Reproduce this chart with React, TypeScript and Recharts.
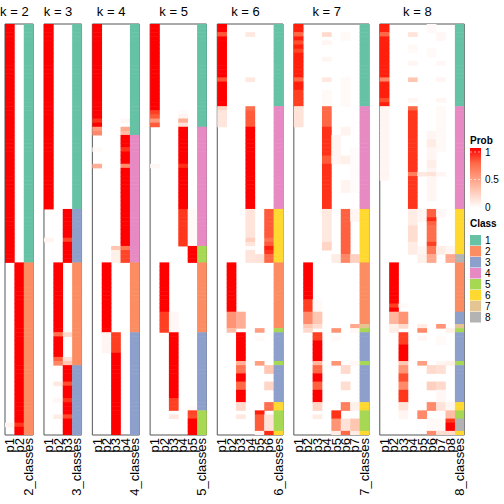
import React from 'react';
import { ScatterChart, Scatter, XAxis, YAxis, ReferenceArea } from 'recharts';

// samples (rows) shared by every panel
const ROWS = 100;
const KS = [2, 3, 4, 5, 6, 7, 8];
const CLASS_IDS = ['1', '2', '3', '4', '5', '6', '7', '8'];
const CLASS_COLORS = ['#66C2A5', '#FC8D62', '#8DA0CB', '#E78AC3', '#A6D854', '#FFD92F', '#E5C494', '#B3B3B3'];
const PROB_TICKS = [1, 0.5, 0];

// class runs: [fromRow, toRow, class]
// prob runs: [column p#, fromRow, toRow, probability] (later entries win)
const K2_CLASSES = [[0, 57, 1], [58, 99, 2]];
const K2_PROBS = [[1, 0, 57, 1], [2, 58, 99, 1], [1, 97, 97, 0.06], [2, 97, 97, 0.92]];

const K3_CLASSES = [[0, 44, 1], [45, 57, 3], [58, 82, 2], [83, 99, 3]];
const K3_PROBS = [
  [1, 0, 44, 1],
  [3, 45, 57, 1], [1, 52, 52, 0.06], [3, 52, 52, 0.88],
  [2, 58, 82, 1], [2, 75, 75, 0.72], [3, 75, 75, 0.2], [2, 81, 81, 0.78], [3, 81, 81, 0.16], [2, 82, 82, 0.62], [3, 82, 82, 0.3],
  [3, 83, 99, 1], [2, 87, 87, 0.12], [3, 87, 87, 0.85], [2, 91, 91, 0.04], [3, 91, 91, 0.93], [2, 95, 95, 0.1], [3, 95, 95, 0.86],
];

const K4_CLASSES = [[0, 26, 1], [27, 57, 4], [58, 74, 2], [75, 99, 3]];
const K4_PROBS = [
  [1, 0, 26, 1], [1, 23, 23, 0.93], [4, 23, 23, 0.04], [1, 25, 25, 0.5], [4, 25, 25, 0.45], [1, 26, 26, 0.6], [4, 26, 26, 0.35],
  [4, 27, 57, 1], [1, 30, 30, 0.03], [4, 30, 30, 0.93], [1, 34, 34, 0.42], [4, 34, 34, 0.58],
  [3, 54, 54, 0.3], [4, 54, 54, 0.68], [3, 55, 57, 0.08], [4, 55, 57, 0.88],
  [2, 58, 74, 1],
  [3, 75, 99, 1], [2, 75, 79, 0.05], [3, 75, 79, 0.9],
];

const K5_CLASSES = [[0, 24, 1], [25, 53, 4], [54, 57, 5], [58, 74, 2], [75, 93, 3], [94, 99, 5]];
const K5_PROBS = [
  [1, 0, 24, 1], [1, 21, 21, 0.9], [4, 21, 21, 0.02], [1, 22, 22, 0.8], [4, 22, 22, 0.06], [1, 23, 23, 0.52], [4, 23, 23, 0.42], [1, 24, 24, 0.8], [4, 24, 24, 0.15],
  [4, 25, 53, 1], [1, 34, 34, 0.04], [4, 34, 34, 0.94], [4, 45, 53, 0.92], [5, 45, 53, 0.03],
  [5, 54, 57, 1],
  [2, 58, 74, 1], [2, 70, 74, 0.9], [3, 70, 74, 0.04],
  [3, 75, 93, 1], [3, 91, 93, 0.9], [5, 93, 93, 0.03],
  [5, 94, 99, 1], [5, 94, 94, 0.88], [3, 95, 95, 0.12], [5, 95, 95, 0.85],
];

const K6_CLASSES = [[0, 19, 1], [20, 44, 4], [45, 57, 6], [58, 73, 2], [74, 74, 5], [75, 81, 3], [82, 82, 5], [83, 91, 3], [92, 93, 6], [94, 98, 5], [99, 99, 6]];
const K6_PROBS = [
  [1, 0, 19, 1], [1, 2, 2, 0.82], [4, 2, 2, 0.12], [1, 13, 13, 0.82], [4, 13, 13, 0.12],
  [4, 20, 44, 1], [1, 20, 20, 0.22], [4, 20, 20, 0.72], [1, 21, 24, 0.13], [4, 21, 24, 0.8],
  [6, 45, 57, 0.8], [4, 45, 57, 0.14], [4, 52, 52, 0.25], [6, 52, 52, 0.7], [6, 54, 54, 0.97], [4, 54, 54, 0.02],
  [6, 55, 55, 0.92], [5, 56, 57, 0.15], [6, 56, 57, 0.75],
  [2, 58, 73, 1], [2, 70, 73, 0.55], [3, 70, 73, 0.42],
  [2, 74, 74, 0.35], [5, 74, 74, 0.5],
  [3, 75, 81, 1], [5, 76, 76, 0.03],
  [3, 82, 82, 0.42], [5, 82, 82, 0.5],
  [3, 83, 91, 1], [3, 83, 84, 0.7], [6, 83, 84, 0.3], [3, 87, 88, 0.75], [6, 87, 88, 0.22],
  [3, 92, 93, 0.2], [6, 92, 93, 0.72],
  [5, 94, 94, 0.97], [3, 95, 95, 0.12], [5, 95, 98, 0.8], [6, 95, 98, 0.15],
  [6, 99, 99, 0.95], [5, 99, 99, 0.05],
];

const K7_CLASSES = [[0, 19, 1], [20, 44, 4], [45, 57, 6], [58, 72, 2], [73, 73, 7], [74, 74, 5], [75, 81, 3], [82, 82, 5], [83, 91, 3], [92, 93, 6], [94, 98, 5], [99, 99, 6]];
const K7_PROBS = [
  [1, 0, 19, 0.97], [1, 2, 2, 0.75], [4, 2, 2, 0.2], [6, 2, 3, 0.03], [1, 4, 4, 0.85], [4, 4, 4, 0.05], [1, 6, 6, 0.88],
  [4, 8, 8, 0.05], [1, 13, 13, 0.75], [4, 13, 13, 0.12], [6, 13, 19, 0.03], [1, 16, 19, 0.9], [4, 16, 19, 0.03],
  [4, 20, 44, 0.93], [1, 20, 24, 0.15], [4, 20, 24, 0.75], [5, 27, 33, 0.05], [6, 25, 26, 0.06],
  [4, 32, 33, 0.8], [6, 32, 33, 0.08], [6, 38, 40, 0.06], [7, 30, 40, 0.02],
  [6, 45, 57, 0.78], [4, 45, 52, 0.12], [7, 45, 47, 0.05], [4, 53, 54, 0.22],
  [5, 56, 57, 0.1], [6, 56, 57, 0.62], [7, 56, 57, 0.25],
  [2, 58, 72, 1], [2, 67, 69, 0.9], [3, 67, 69, 0.03], [2, 70, 72, 0.6], [3, 70, 72, 0.3],
  [2, 73, 73, 0.3], [3, 73, 73, 0.18], [7, 73, 73, 0.45],
  [2, 74, 74, 0.2], [5, 74, 74, 0.55], [7, 74, 74, 0.04],
  [3, 75, 81, 1], [3, 75, 76, 0.9], [5, 76, 76, 0.03],
  [3, 82, 82, 0.38], [5, 82, 82, 0.55], [7, 82, 82, 0.04],
  [3, 83, 91, 1], [3, 83, 84, 0.75], [6, 83, 84, 0.2], [3, 87, 88, 0.78], [6, 87, 88, 0.18],
  [3, 92, 93, 0.22], [6, 92, 93, 0.65], [7, 92, 93, 0.08],
  [5, 94, 95, 0.93], [3, 95, 95, 0.1], [5, 96, 98, 0.55], [6, 96, 98, 0.15], [7, 96, 98, 0.3],
  [6, 99, 99, 0.75], [5, 99, 99, 0.1], [7, 99, 99, 0.1],
];

const K8_CLASSES = [[0, 19, 1], [20, 44, 4], [45, 55, 6], [56, 57, 8], [58, 69, 2], [70, 72, 3], [73, 73, 7], [74, 74, 5], [75, 81, 3], [82, 82, 5], [83, 91, 3], [92, 93, 6], [94, 95, 5], [96, 98, 8], [99, 99, 6]];
const K8_PROBS = [
  [1, 0, 19, 0.97], [1, 2, 2, 0.75], [4, 2, 2, 0.15], [7, 2, 3, 0.04], [6, 0, 1, 0.03], [4, 5, 6, 0.03], [6, 6, 7, 0.03],
  [4, 9, 9, 0.05], [7, 9, 9, 0.04], [1, 13, 13, 0.6], [4, 13, 13, 0.3], [7, 13, 13, 0.05], [1, 18, 18, 0.85], [4, 18, 18, 0.05], [7, 18, 18, 0.05],
  [4, 20, 44, 0.92], [4, 20, 20, 0.75], [1, 20, 37, 0.05], [6, 26, 42, 0.05], [7, 20, 30, 0.03], [6, 28, 29, 0.1], [6, 33, 34, 0.09],
  [1, 36, 36, 0.06], [4, 36, 36, 0.65], [5, 36, 36, 0.12], [6, 36, 36, 0.15], [7, 36, 36, 0.05],
  [6, 45, 55, 0.78], [4, 45, 55, 0.1], [5, 45, 47, 0.05], [7, 45, 46, 0.04], [6, 47, 47, 0.95], [4, 49, 52, 0.18], [6, 49, 52, 0.72],
  [6, 53, 53, 0.9], [5, 54, 55, 0.05], [6, 54, 55, 0.68], [7, 54, 55, 0.1], [8, 54, 55, 0.05],
  [5, 56, 57, 0.08], [6, 56, 57, 0.45], [8, 56, 57, 0.45],
  [2, 58, 69, 1], [2, 68, 68, 0.9], [3, 68, 68, 0.03],
  [2, 70, 72, 0.38], [3, 70, 72, 0.55],
  [2, 73, 73, 0.08], [3, 73, 73, 0.2], [5, 73, 73, 0.1], [7, 73, 73, 0.55],
  [2, 74, 74, 0.1], [5, 74, 74, 0.6], [8, 74, 74, 0.08],
  [3, 75, 81, 1], [3, 75, 77, 0.9], [5, 76, 76, 0.04], [7, 76, 77, 0.03],
  [3, 82, 82, 0.3], [5, 82, 82, 0.5], [7, 82, 82, 0.05], [8, 82, 82, 0.08],
  [3, 83, 91, 1], [3, 83, 84, 0.55], [6, 83, 84, 0.2], [7, 83, 84, 0.17], [3, 85, 86, 0.85],
  [3, 87, 88, 0.6], [6, 87, 88, 0.25], [7, 87, 88, 0.2], [3, 89, 91, 0.92], [7, 89, 91, 0.04],
  [3, 92, 93, 0.15], [6, 92, 93, 0.6], [7, 92, 93, 0.15], [8, 92, 93, 0.05],
  [3, 94, 95, 0.05], [5, 94, 95, 0.6], [8, 94, 95, 0.35],
  [8, 96, 98, 1], [8, 96, 96, 0.92], [6, 96, 98, 0.03], [7, 96, 98, 0.03],
  [6, 99, 99, 0.6], [7, 99, 99, 0.18], [8, 99, 99, 0.18],
];

const CLASS_RUNS = [K2_CLASSES, K3_CLASSES, K4_CLASSES, K5_CLASSES, K6_CLASSES, K7_CLASSES, K8_CLASSES];
const PROB_RUNS = [K2_PROBS, K3_PROBS, K4_PROBS, K5_PROBS, K6_PROBS, K7_PROBS, K8_PROBS];

// layout
const W = 504;
const H = 504;
const GAP = 1.15; // gap between panels, in cell widths
const MARGIN = { top: 0, right: 39.7, bottom: 0, left: 5 };
const TOP_H = 24;
const BOTTOM_H = 69;
const FONT = '"Liberation Sans", Arial, Helvetica, sans-serif';

const OFFSETS: number[] = [];
let acc = 0;
KS.forEach((k) => {
  OFFSETS.push(acc);
  acc += k + 1 + GAP;
});
const SPAN = acc - GAP;
const CELL_W = (W - MARGIN.left - MARGIN.right) / SPAN;
const CELL_H = (H - TOP_H - BOTTOM_H) / ROWS;

// white -> red in Lab, like colorRamp2
const labToHex = (L: number, a: number, b: number) => {
  const fy = (L + 16) / 116;
  const fx = fy + a / 500;
  const fz = fy - b / 200;
  const inv = (t: number) => (t > 6 / 29 ? t * t * t : 3 * (6 / 29) ** 2 * (t - 4 / 29));
  const X = 0.95047 * inv(fx);
  const Y = inv(fy);
  const Z = 1.08883 * inv(fz);
  const lin = [
    3.2406 * X - 1.5372 * Y - 0.4986 * Z,
    -0.9689 * X + 1.8758 * Y + 0.0415 * Z,
    0.0557 * X - 0.204 * Y + 1.057 * Z,
  ];
  return '#' + lin.map((c) => {
    const v = c <= 0.0031308 ? 12.92 * c : 1.055 * Math.pow(Math.max(c, 0), 1 / 2.4) - 0.055;
    const n = Math.round(Math.min(1, Math.max(0, v)) * 255);
    return n.toString(16).padStart(2, '0');
  }).join('');
};
const probColor = (p: number) => labToHex(100 - 46.7592 * p, 80.0925 * p, 67.2032 * p);

const cells: any[] = [];
const bottomTicks: number[] = [];
const bottomLabels = new Map<string, string>();
const topTicks: number[] = [];
const topLabels = new Map<string, string>();

KS.forEach((k, i) => {
  const off = OFFSETS[i];
  const m = Array.from({ length: ROWS }, () => new Array(k + 1).fill(0));
  PROB_RUNS[i].forEach(([c, from, to, p]) => {
    for (let r = from; r <= to; r++) m[r][c] = p;
  });
  const cls = new Array(ROWS).fill(0);
  CLASS_RUNS[i].forEach(([from, to, c]) => {
    for (let r = from; r <= to; r++) cls[r] = c;
  });
  for (let r = 0; r < ROWS; r++) {
    for (let c = 1; c <= k; c++) {
      if (m[r][c] > 0.004) cells.push({ x: off + c - 0.5, y: r + 0.5, fill: probColor(m[r][c]) });
    }
    cells.push({ x: off + k + 0.5, y: r + 0.5, fill: CLASS_COLORS[cls[r] - 1] });
  }
  for (let c = 1; c <= k; c++) {
    bottomTicks.push(off + c - 0.5);
    bottomLabels.set((off + c - 0.5).toFixed(3), 'p' + c);
  }
  bottomTicks.push(off + k + 0.5);
  bottomLabels.set((off + k + 0.5).toFixed(3), `${k}_classes`);
  topTicks.push(off + k / 2);
  topLabels.set((off + k / 2).toFixed(3), `k = ${k}`);
});

const CellShape = (props: any) => {
  const { cx, cy, payload } = props;
  if (cx == null || cy == null) return null;
  return (
    <rect x={cx - CELL_W / 2} y={cy - CELL_H / 2} width={CELL_W + 0.3} height={CELL_H + 0.5} fill={payload.fill} />
  );
};

const BottomTick = (props: any) => {
  const { x, y, payload } = props;
  const label = bottomLabels.get(Number(payload.value).toFixed(3)) || '';
  const tx = x + 4.5;
  return (
    <text x={tx} y={y} transform={`rotate(-90 ${tx} ${y})`} textAnchor="end" fontSize={13} fontFamily={FONT} fill="#000">
      {label}
    </text>
  );
};

const TopTick = (props: any) => {
  const { x, y, payload } = props;
  const label = topLabels.get(Number(payload.value).toFixed(3)) || '';
  return (
    <text x={x} y={y} textAnchor="middle" fontSize={13} fontFamily={FONT} fill="#000">
      {label}
    </text>
  );
};

const Legend = () => {
  const gx = 470;
  const gTop = 148;
  const gBottom = 208;
  const py = (p: number) => gBottom - 1 - (gBottom - gTop - 5) * p;
  return (
    <svg width={W} height={H} style={{ position: 'absolute', left: 0, top: 0, pointerEvents: 'none' }}>
      <defs>
        <linearGradient id="probGrad" x1="0" y1="0" x2="0" y2="1">
          {[1, 0.75, 0.5, 0.25, 0].map((p, i) => (
            <stop key={i} offset={`${i * 25}%`} stopColor={probColor(p)} />
          ))}
        </linearGradient>
      </defs>
      <text x={gx} y={144} fontSize={10} fontWeight="bold" fontFamily={FONT}>Prob</text>
      <rect x={gx} y={gTop} width={11} height={gBottom - gTop} fill="url(#probGrad)" />
      {PROB_TICKS.map((p) => (
        <g key={p}>
          <line x1={gx} x2={gx + 11} y1={py(p)} y2={py(p)} stroke="#fff" strokeWidth={0.8} strokeDasharray="2 2" opacity={0.7} />
          <text x={gx + 15} y={py(p)} dominantBaseline="central" fontSize={10} fontFamily={FONT}>{p}</text>
        </g>
      ))}
      <text x={gx} y={227} fontSize={10} fontWeight="bold" fontFamily={FONT}>Class</text>
      {CLASS_IDS.map((id, i) => (
        <g key={id}>
          <rect x={gx} y={235 + i * 11} width={11} height={10.5} fill={CLASS_COLORS[i]} />
          <text x={gx + 15} y={240.3 + i * 11} dominantBaseline="central" fontSize={10} fontFamily={FONT}>{id}</text>
        </g>
      ))}
    </svg>
  );
};

export default function App() {
  return (
    <div style={{ position: 'absolute', left: 0, top: 0, width: W, height: H, background: '#fff' }}>
      <ScatterChart width={W} height={H} margin={MARGIN}>
        <XAxis
          type="number"
          dataKey="x"
          domain={[0, SPAN]}
          ticks={bottomTicks}
          interval={0}
          tick={<BottomTick />}
          tickLine={false}
          axisLine={false}
          tickSize={0}
          tickMargin={3}
          height={BOTTOM_H}
          allowDataOverflow
        />
        <XAxis
          xAxisId="top"
          orientation="top"
          type="number"
          dataKey="x"
          domain={[0, SPAN]}
          ticks={topTicks}
          interval={0}
          tick={<TopTick />}
          tickLine={false}
          axisLine={false}
          tickSize={0}
          tickMargin={8}
          height={TOP_H}
          allowDataOverflow
        />
        <YAxis type="number" dataKey="y" domain={[0, ROWS]} reversed hide allowDataOverflow />
        <Scatter data={cells} shape={<CellShape />} isAnimationActive={false} />
        <Scatter xAxisId="top" data={topTicks.map((x) => ({ x, y: 0 }))} shape={() => <g />} isAnimationActive={false} />
        {KS.map((k, i) => (
          <ReferenceArea
            key={k}
            x1={OFFSETS[i]}
            x2={OFFSETS[i] + k + 1}
            y1={0}
            y2={ROWS}
            fill="none"
            fillOpacity={0}
            stroke="#555"
            strokeWidth={1}
            ifOverflow="visible"
          />
        ))}
      </ScatterChart>
      <Legend />
    </div>
  );
}
